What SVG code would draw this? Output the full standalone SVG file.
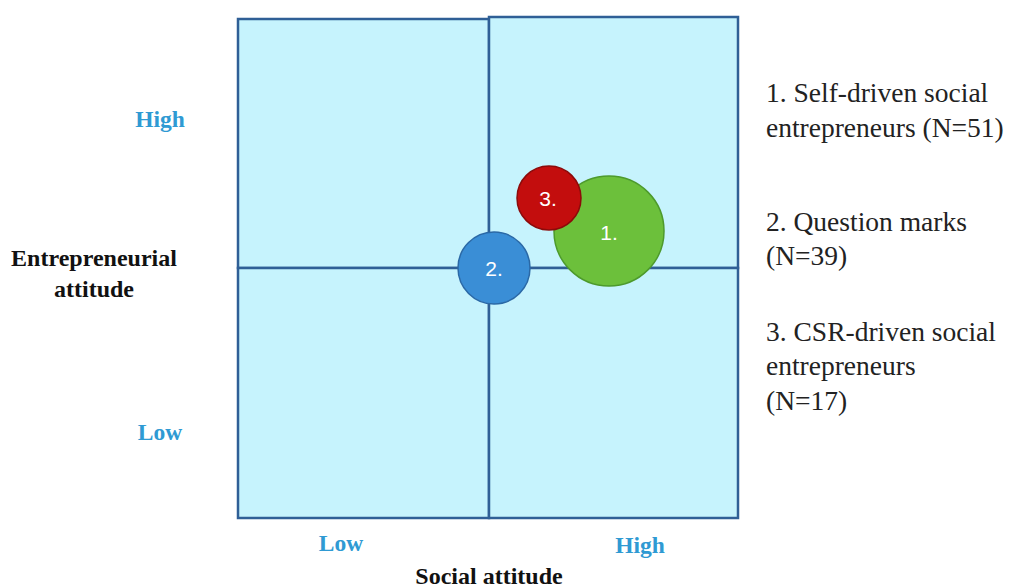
<svg xmlns="http://www.w3.org/2000/svg" width="1011" height="588" viewBox="0 0 1011 588">
<style>
.q{fill:#c6f3fd;stroke:#2f5f96;stroke-width:2.5}
.ax{font-family:"Liberation Serif",serif;font-weight:bold;font-size:23.5px;fill:#2f9ad3;text-anchor:middle}
.tt{font-family:"Liberation Serif",serif;font-weight:bold;font-size:24px;fill:#111;text-anchor:middle}
.lg{font-family:"Liberation Serif",serif;font-size:27.5px;fill:#222}
.cl{font-family:"Liberation Sans",Arial,sans-serif;font-size:21px;fill:#fff;text-anchor:middle}
</style>
<rect width="1011" height="588" fill="#fff"/>
<g id="grid">
<rect class="q" x="238" y="19" width="251" height="249"/>
<rect class="q" x="489" y="17" width="249" height="251"/>
<rect class="q" x="238" y="268" width="251" height="250"/>
<rect class="q" x="489" y="268" width="249" height="250"/>
</g>
<g id="node1">
<circle cx="609" cy="231" r="55" fill="#6cc03b" stroke="#4d9a2c" stroke-width="1.5"/>
<text class="cl" x="609" y="240">1.</text>
</g>
<g id="node3">
<circle cx="549" cy="198" r="32" fill="#c30d0d" stroke="#8c0a0a" stroke-width="1.5"/>
<text class="cl" x="548" y="206">3.</text>
</g>
<g id="node2">
<circle cx="494" cy="268" r="36" fill="#3a8ed6" stroke="#2a68a6" stroke-width="1.5"/>
<text class="cl" x="494" y="276">2.</text>
</g>
<g id="labels">
<text class="ax" x="160" y="127">High</text>
<text class="ax" x="160" y="440">Low</text>
<text class="ax" x="341" y="551">Low</text>
<text class="ax" x="640" y="553">High</text>
<text class="tt" x="94" y="266">Entrepreneurial</text>
<text class="tt" x="94" y="297">attitude</text>
<text class="tt" x="489" y="584">Social attitude</text>
</g>
<g id="legend">
<text class="lg" x="766" y="102">1. Self-driven social</text>
<text class="lg" x="766" y="137">entrepreneurs (N=51)</text>
<text class="lg" x="766" y="231">2. Question marks</text>
<text class="lg" x="766" y="265">(N=39)</text>
<text class="lg" x="766" y="341">3. CSR-driven social</text>
<text class="lg" x="766" y="375">entrepreneurs</text>
<text class="lg" x="766" y="410">(N=17)</text>
</g>
<g id="connectors"></g>
</svg>
